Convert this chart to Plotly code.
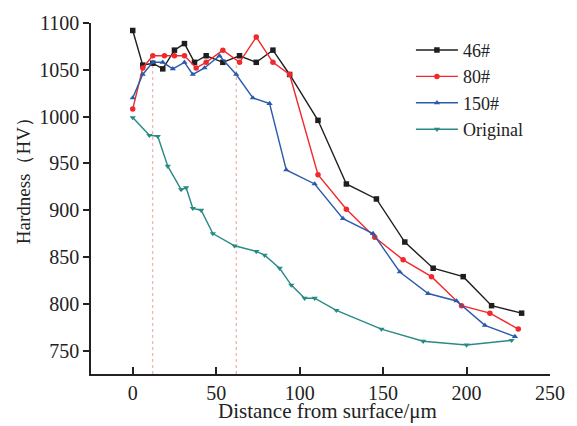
import plotly.graph_objects as go

# ---- data ----
x_46 = [0, 6, 12, 18, 25, 31, 37, 44, 54, 64, 74, 84, 94, 111, 128, 146, 163, 180, 198, 215, 233]
y_46 = [1092, 1055, 1057, 1051, 1071, 1078, 1058, 1065, 1058, 1065, 1058, 1071, 1045, 996, 928, 912, 866, 838, 829, 798, 790]

x_80 = [0, 6, 12, 19, 25, 31, 38, 44, 54, 64, 74, 84, 94, 111, 128, 145, 162, 179, 197, 214, 231]
y_80 = [1008, 1052, 1065, 1065, 1065, 1065, 1052, 1058, 1071, 1058, 1085, 1058, 1045, 938, 901, 871, 847, 829, 798, 790, 773]

x_150 = [0, 6, 12, 18, 24, 31, 36, 43, 52, 62, 72, 82, 92, 109, 126, 144, 160, 177, 194, 211, 229]
y_150 = [1020, 1045, 1058, 1058, 1051, 1058, 1045, 1052, 1065, 1045, 1020, 1014, 943, 928, 891, 875, 834, 811, 803, 777, 765]

x_orig = [0, 10, 15, 21, 29, 32, 36, 41, 48, 61, 74, 79, 88, 95, 103, 109, 122, 149, 174, 200, 227]
y_orig = [999, 980, 979, 947, 922, 924, 902, 900, 875, 862, 856, 852, 838, 820, 806, 806, 793, 773, 760, 756, 761]

guide_x = [12, 62]          # dotted reference lines
guide_top = 1058

x_ticks = [0, 50, 100, 150, 200, 250]
y_ticks = [750, 800, 850, 900, 950, 1000, 1050, 1100]

series = [
    ("46#", x_46, y_46, "#1e1e1e", "square"),
    ("80#", x_80, y_80, "#f2282c", "circle"),
    ("150#", x_150, y_150, "#2a5bab", "triangle-up"),
    ("Original", x_orig, y_orig, "#288a84", "triangle-down"),
]

FONT = "Liberation Serif, Times New Roman, serif"
INK = "#222222"

fig = go.Figure()
for name, xs, ys, color, sym in series:
    fig.add_trace(go.Scatter(
        x=xs, y=ys, name=name, mode="lines+markers",
        line=dict(color=color, width=1.4),
        marker=dict(symbol=sym, size=5.5, color=color),
    ))

for gx in guide_x:
    fig.add_shape(type="line", x0=gx, x1=gx, y0=725, y1=guide_top,
                  xref="x", yref="y",
                  line=dict(color="#f29a9a", width=1, dash="dot"), layer="below")

fig.update_layout(
    width=577, height=426,
    margin=dict(l=91, r=18, t=20, b=52),
    paper_bgcolor="white", plot_bgcolor="white",
    font=dict(family=FONT, size=20, color=INK),
    showlegend=True,
    legend=dict(x=0.697, y=0.975, xanchor="left", yanchor="top",
                bgcolor="rgba(0,0,0,0)", borderwidth=0,
                font=dict(family=FONT, size=18, color=INK),
                itemwidth=42, tracegroupgap=0),
    xaxis=dict(range=[-25, 250], tickvals=x_ticks, ticks="inside", ticklen=7,
               tickwidth=1.5, tickcolor=INK,
               showline=True, linecolor=INK, linewidth=1.5,
               showgrid=False, zeroline=False, mirror=False,
               tickfont=dict(family=FONT, size=20, color=INK)),
    yaxis=dict(range=[725, 1100], tickvals=y_ticks, ticks="outside", ticklen=6,
               tickwidth=1.5, tickcolor=INK,
               showline=True, linecolor=INK, linewidth=1.5,
               showgrid=False, zeroline=False, mirror=False,
               tickfont=dict(family=FONT, size=20, color=INK)),
    annotations=[
        dict(text="Distance from surface/μm", xref="paper", yref="paper",
             x=0.515, y=-0.144, xanchor="center", yanchor="bottom",
             showarrow=False, font=dict(family=FONT, size=21, color=INK)),
        dict(text="Hardness（HV）", xref="paper", yref="paper",
             x=-0.147, y=0.562, xanchor="center", yanchor="middle", textangle=-90,
             showarrow=False, font=dict(family=FONT, size=19, color=INK)),
    ],
)

fig.write_html("out.html", config={"displayModeBar": False},
               post_script="document.body.style.margin='0';document.body.style.padding='0';")
